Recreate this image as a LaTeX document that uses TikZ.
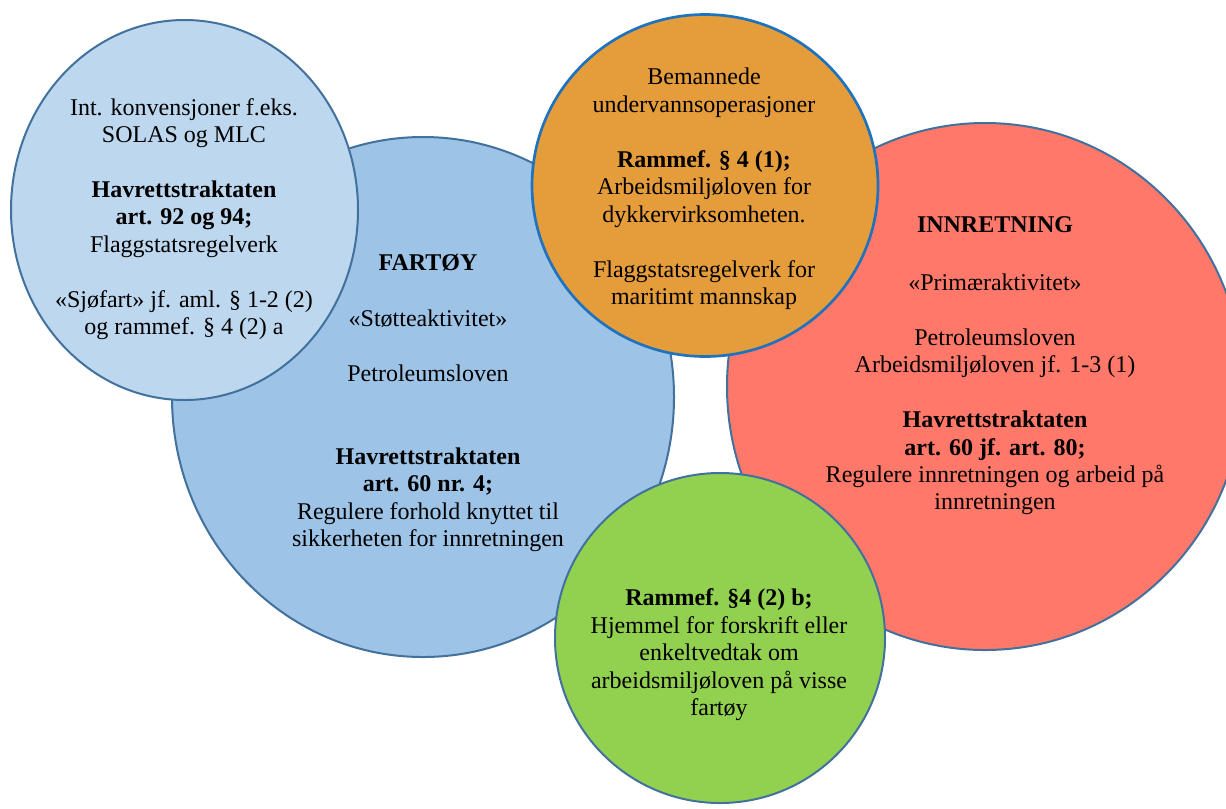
\documentclass[tikz,border=0pt]{standalone}
\usepackage{fontspec}
\setmainfont{Liberation Serif}
\definecolor{lysblaa}{HTML}{BDD7EE}
\definecolor{blaa}{HTML}{9DC3E6}
\definecolor{oransje}{HTML}{E59C3B}
\definecolor{rod}{HTML}{FF7869}
\definecolor{gronn}{HTML}{92D050}
\definecolor{kant}{HTML}{41719C}
\definecolor{kantdyk}{HTML}{1F72BE}
\begin{document}
\begin{tikzpicture}[x=0.75pt,y=-0.75pt,
        boble/.style={draw=kant,line width=1.5pt},
        tekst/.style={align=center,inner sep=0pt,font=\fontsize{18}{20.6}\selectfont}]
            \useasboundingbox (0,0) rectangle (1226,808);
            \clip (0,0) rectangle (1226,808);

            % boblene
            \filldraw[boble,fill=blaa] (423,397) ellipse [x radius=251, y radius=260];
            \filldraw[boble,fill=lysblaa] (184.5,210) ellipse [x radius=173.5, y radius=190];
            \filldraw[boble,fill=rod] (985,386.5) ellipse [x radius=258, y radius=263.5];
            \filldraw[boble,draw=kantdyk,line width=2pt,fill=oransje] (705,185.5) ellipse [x radius=173, y radius=171];
            \filldraw[boble,fill=gronn] (720,638) ellipse [x radius=165, y radius=165];

            \node[tekst] (konvensjoner) at (184,219) {Int. konvensjoner f.eks.\\SOLAS og MLC\\[20.6pt]
                \textbf{Havrettstraktaten}\\\textbf{art. 92 og 94;}\\Flaggstatsregelverk\\[20.6pt]
                «Sjøfart» jf. aml. § 1-2 (2)\\og rammef. § 4 (2) a};
            \node[tekst] (fartoy) at (428,403) {\textbf{FARTØY}\\[21.5pt]«Støtteaktivitet»\\[20.6pt]
                Petroleumsloven\\[41.2pt]
                \textbf{Havrettstraktaten}\\\textbf{art. 60 nr. 4;}\\Regulere forhold knyttet til\\sikkerheten for innretningen};
            \node[tekst] (dykking) at (704,189) {Bemannede\\undervannsoperasjoner\\[20.6pt]
                \textbf{Rammef. § 4 (1);}\\Arbeidsmiljøloven for\\dykkervirksomheten.\\[20.6pt]
                Flaggstatsregelverk for\\maritimt mannskap};
            \node[tekst] (innretning) at (995,366) {\textbf{INNRETNING}\\[22.5pt]«Primæraktivitet»\\[20.6pt]
                Petroleumsloven\\Arbeidsmiljøloven jf. 1-3 (1)\\[20.6pt]
                \textbf{Havrettstraktaten}\\\textbf{art. 60 jf. art. 80;}\\Regulere innretningen og arbeid på\\innretningen};
            \node[tekst] (hjemmel) at (719,655) {\textbf{Rammef. §4 (2) b;}\\Hjemmel for forskrift eller\\enkeltvedtak om\\
                arbeidsmiljøloven på visse\\fartøy};
        \end{tikzpicture}
\end{document}
